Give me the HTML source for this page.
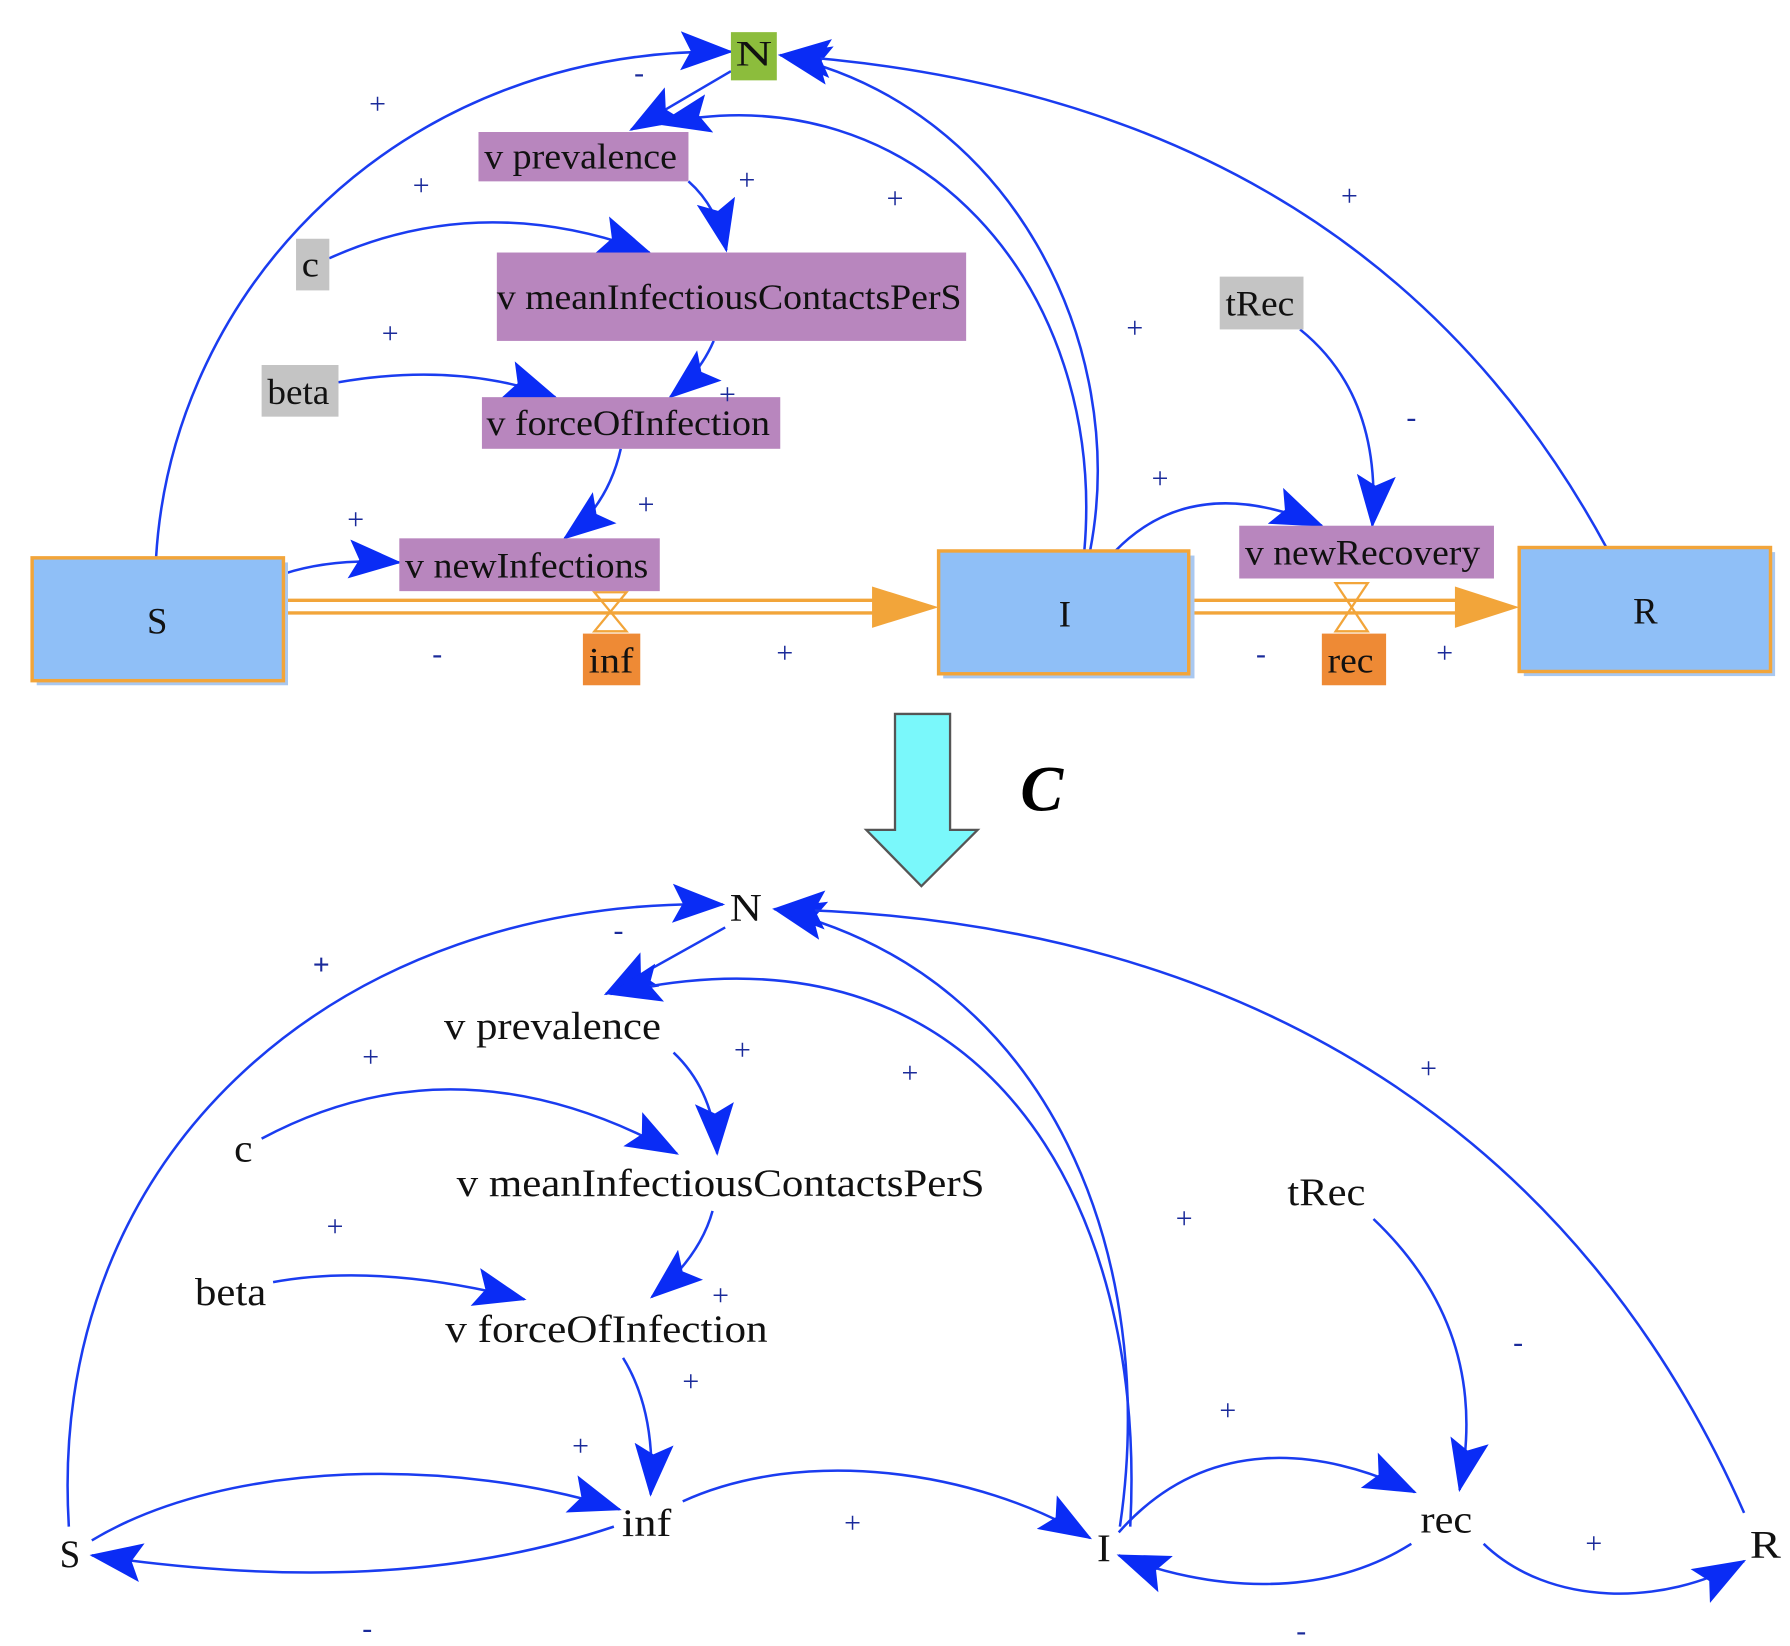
<!DOCTYPE html>
<html><head><meta charset="utf-8"><style>
html,body{margin:0;padding:0;background:#fff;}
svg{display:block;}
text{font-family:"Liberation Serif",serif;}
</style></head><body>
<svg width="1790" height="1646" viewBox="0 0 1560 1434" preserveAspectRatio="none" xmlns="http://www.w3.org/2000/svg">
<defs>
<marker id="a" markerUnits="userSpaceOnUse" markerWidth="50" markerHeight="38" refX="44" refY="19" orient="auto">
<path d="M0,2 L46,19 L0,36 L9,19 Z" fill="#0a2cf5"/>
</marker>
</defs>
<rect width="1560" height="1434" fill="#fff"/>

<!-- TOP DIAGRAM -->
<g fill="none" stroke="#1a3cf0" stroke-width="2.2">
<path d="M136,486 C150,250 350,40 637,45" marker-end="url(#a)"/>
<path d="M637,62 L550,113" marker-end="url(#a)"/>
<path d="M945,480 C965,250 800,60 575,108" marker-end="url(#a)"/>
<path d="M950,480 C985,300 880,90 680,48" marker-end="url(#a)"/>
<path d="M1400,477 C1250,200 1000,70 680,48" marker-end="url(#a)"/>
<path d="M600,158 Q625,180 633,218" marker-end="url(#a)"/>
<path d="M287,225 Q420,165 566,220" marker-end="url(#a)"/>
<path d="M622,297 Q610,325 584,346" marker-end="url(#a)"/>
<path d="M295,333 Q400,315 484,346" marker-end="url(#a)"/>
<path d="M541,391 Q530,440 492,469" marker-end="url(#a)"/>
<path d="M247,500 Q290,486 348,490" marker-end="url(#a)"/>
<path d="M1133,287 Q1205,345 1196,458" marker-end="url(#a)"/>
<path d="M972,480 Q1040,410 1152,458" marker-end="url(#a)"/>
</g>

<!-- flows -->
<g stroke="#f2a53a" stroke-width="3" fill="none">
<line x1="247" y1="523" x2="765" y2="523"/>
<line x1="247" y1="534" x2="765" y2="534"/>
<line x1="1036" y1="523" x2="1270" y2="523"/>
<line x1="1036" y1="534" x2="1270" y2="534"/>
<path d="M518,516 L546,516 L518,550 L546,550 Z" stroke-width="2"/>
<path d="M1164,508 L1192,508 L1164,550 L1192,550 Z" stroke-width="2"/>
</g>
<path d="M760,511 L818,529 L760,547 Z" fill="#f2a53a"/>
<path d="M1268,511 L1324,529 L1268,547 Z" fill="#f2a53a"/>

<!-- boxes -->
<g>
<rect x="32" y="490" width="219" height="107" fill="#a9c8f0"/>
<rect x="28" y="486" width="219" height="107" fill="#8fbff7" stroke="#f2a53a" stroke-width="3"/>
<rect x="822" y="484" width="219" height="107" fill="#a9c8f0"/>
<rect x="818" y="480" width="218" height="107" fill="#8fbff7" stroke="#f2a53a" stroke-width="3"/>
<rect x="1328" y="481" width="219" height="108" fill="#a9c8f0"/>
<rect x="1324" y="477" width="219" height="108" fill="#8fbff7" stroke="#f2a53a" stroke-width="3"/>
</g>
<g font-size="32" fill="#111" text-anchor="middle">
<text x="137" y="552">S</text>
<text x="928" y="546">I</text>
<text x="1434" y="543">R</text>
</g>

<rect x="637" y="28" width="40" height="42" fill="#8cbd3c"/>
<rect x="417" y="115" width="183" height="43" fill="#b886be"/>
<rect x="258" y="208" width="29" height="45" fill="#c4c4c4"/>
<rect x="433" y="220" width="409" height="77" fill="#b886be"/>
<rect x="228" y="318" width="67" height="45" fill="#c4c4c4"/>
<rect x="420" y="346" width="260" height="45" fill="#b886be"/>
<rect x="1063" y="241" width="73" height="46" fill="#c4c4c4"/>
<rect x="348" y="469" width="227" height="46" fill="#b886be"/>
<rect x="1080" y="458" width="222" height="46" fill="#b886be"/>
<rect x="508" y="552" width="50" height="45" fill="#ee8a35"/>
<rect x="1152" y="552" width="56" height="45" fill="#ee8a35"/>

<g font-size="31" fill="#111" lengthAdjust="spacingAndGlyphs">
<text x="641" y="57" textLength="32" lengthAdjust="spacingAndGlyphs">N</text>
<text x="422" y="147" textLength="168" lengthAdjust="spacingAndGlyphs">v prevalence</text>
<text x="263" y="241" textLength="15" lengthAdjust="spacingAndGlyphs">c</text>
<text x="433" y="269" textLength="405" lengthAdjust="spacingAndGlyphs">v meanInfectiousContactsPerS</text>
<text x="233" y="352" textLength="54" lengthAdjust="spacingAndGlyphs">beta</text>
<text x="424" y="379" textLength="247" lengthAdjust="spacingAndGlyphs">v forceOfInfection</text>
<text x="1068" y="275" textLength="60" lengthAdjust="spacingAndGlyphs">tRec</text>
<text x="353" y="503" textLength="212" lengthAdjust="spacingAndGlyphs">v newInfections</text>
<text x="1085" y="492" textLength="205" lengthAdjust="spacingAndGlyphs">v newRecovery</text>
<text x="513" y="586" textLength="39" lengthAdjust="spacingAndGlyphs">inf</text>
<text x="1157" y="586" textLength="40" lengthAdjust="spacingAndGlyphs">rec</text>
</g>

<g font-size="26" fill="#1a2a9a" text-anchor="middle">
<text x="329" y="99">+</text><text x="367" y="170">+</text><text x="651" y="165">+</text>
<text x="780" y="181">+</text><text x="340" y="299">+</text><text x="634" y="352">+</text>
<text x="989" y="294">+</text><text x="1011" y="425">+</text><text x="563" y="448">+</text>
<text x="310" y="461">+</text><text x="684" y="577">+</text><text x="1259" y="577">+</text>
<text x="1176" y="179">+</text>
<text x="557" y="72">-</text><text x="1230" y="372">-</text><text x="381" y="578">-</text><text x="1099" y="578">-</text>
</g>

<!-- big arrow -->
<path d="M780,622 L828,622 L828,723 L852,723 L803,772 L755,723 L780,723 Z" fill="#7af8fb" stroke="#555" stroke-width="2"/>
<text x="908" y="706" font-family="Liberation Sans, sans-serif" font-weight="bold" font-style="italic" font-size="56" text-anchor="middle" fill="#000">C</text>

<!-- BOTTOM DIAGRAM -->
<g fill="none" stroke="#1a3cf0" stroke-width="2.2">
<path d="M60,1330 C40,1000 300,780 630,788" marker-end="url(#a)"/>
<path d="M632,808 L528,866" marker-end="url(#a)"/>
<path d="M985,1330 C1000,1050 860,790 532,866" marker-end="url(#a)"/>
<path d="M976,1330 C1010,1100 920,850 675,792" marker-end="url(#a)"/>
<path d="M1520,1318 C1380,1000 1100,800 675,792" marker-end="url(#a)"/>
<path d="M587,917 Q622,950 625,1005" marker-end="url(#a)"/>
<path d="M228,992 Q400,900 590,1005" marker-end="url(#a)"/>
<path d="M621,1055 Q610,1095 568,1130" marker-end="url(#a)"/>
<path d="M238,1117 Q330,1100 457,1132" marker-end="url(#a)"/>
<path d="M543,1183 Q572,1230 567,1302" marker-end="url(#a)"/>
<path d="M80,1342 C200,1270 400,1270 540,1315" marker-end="url(#a)"/>
<path d="M535,1330 C400,1375 250,1380 80,1355" marker-end="url(#a)"/>
<path d="M595,1308 C700,1260 850,1280 950,1340" marker-end="url(#a)"/>
<path d="M975,1335 C1050,1250 1150,1260 1233,1300" marker-end="url(#a)"/>
<path d="M1230,1345 C1150,1395 1050,1385 975,1355" marker-end="url(#a)"/>
<path d="M1197,1062 Q1300,1160 1272,1298" marker-end="url(#a)"/>
<path d="M1293,1345 C1350,1400 1450,1400 1520,1360" marker-end="url(#a)"/>
</g>

<g font-size="34" fill="#111">
<text x="636" y="802" textLength="28" lengthAdjust="spacingAndGlyphs">N</text>
<text x="387" y="905" textLength="189" lengthAdjust="spacingAndGlyphs">v prevalence</text>
<text x="204" y="1012" textLength="16" lengthAdjust="spacingAndGlyphs">c</text>
<text x="398" y="1042" textLength="460" lengthAdjust="spacingAndGlyphs">v meanInfectiousContactsPerS</text>
<text x="170" y="1137" textLength="62" lengthAdjust="spacingAndGlyphs">beta</text>
<text x="388" y="1169" textLength="281" lengthAdjust="spacingAndGlyphs">v forceOfInfection</text>
<text x="1122" y="1050" textLength="68" lengthAdjust="spacingAndGlyphs">tRec</text>
<text x="542" y="1338" textLength="43" lengthAdjust="spacingAndGlyphs">inf</text>
<text x="52" y="1365" textLength="18" lengthAdjust="spacingAndGlyphs">S</text>
<text x="956" y="1360" textLength="12" lengthAdjust="spacingAndGlyphs">I</text>
<text x="1238" y="1335" textLength="45" lengthAdjust="spacingAndGlyphs">rec</text>
<text x="1525" y="1357" textLength="27" lengthAdjust="spacingAndGlyphs">R</text>
</g>

<g font-size="26" fill="#1a2a9a" text-anchor="middle">
<text x="280" y="849" font-weight="bold">+</text><text x="323" y="929">+</text><text x="647" y="923">+</text>
<text x="793" y="943">+</text><text x="292" y="1077">+</text><text x="628" y="1137">+</text>
<text x="602" y="1212">+</text><text x="506" y="1268">+</text><text x="1032" y="1070">+</text>
<text x="1070" y="1237">+</text><text x="1245" y="939">+</text><text x="743" y="1335">+</text>
<text x="1389" y="1353">+</text>
<text x="539" y="819">-</text><text x="1323" y="1178">-</text><text x="320" y="1427">-</text><text x="1134" y="1429">-</text>
</g>
</svg>
</body></html>
